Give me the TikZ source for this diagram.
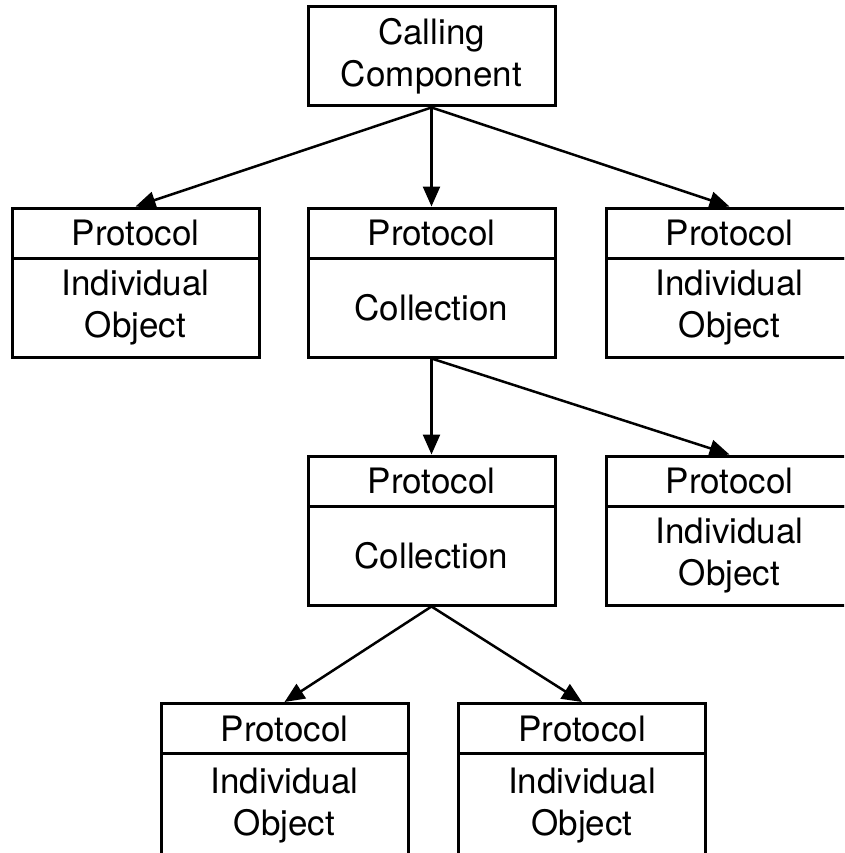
\documentclass[tikz,border=0pt]{standalone}
\usepackage{fontspec}
\setmainfont{TeX Gyre Heros}
\usetikzlibrary{arrows.meta}
\begin{document}
\begin{tikzpicture}[x=1pt,y=-1pt,
  box/.style={draw,line width=3pt,minimum width=247pt,inner sep=0pt,
    align=center,font=\fontsize{35}{42}\selectfont},
  head/.style={box,minimum height=50pt},
  body/.style={box,minimum height=99pt},
  tallbody/.style={box,minimum height=106pt},
  link/.style={line width=2.5pt,-{Triangle[length=20pt,width=17pt]}}]
\useasboundingbox (0,0) rectangle (844,853);
\clip (0,0) rectangle (844,853);

% root
\node[box,minimum height=99pt] (call) at (431.5,56.5) {Calling\\Component};

% second level
\node[head] (h1) at (135.5,233) {Protocol};
\node[body] (b1) at (135.5,307.5) {Individual\\Object};
\node[head] (h2) at (431.5,233) {Protocol};
\node[body] (b2) at (431.5,307.5) {Collection};
\node[head] (h3) at (729.5,233) {Protocol};
\node[body] (b3) at (729.5,307.5) {Individual\\Object};

% third level
\node[head] (h4) at (431.5,481) {Protocol};
\node[body] (b4) at (431.5,555.5) {Collection};
\node[head] (h5) at (729.5,481) {Protocol};
\node[body] (b5) at (729.5,555.5) {Individual\\Object};

% fourth level
\node[head] (h6) at (284.5,728.5) {Protocol};
\node[tallbody] (b6) at (284.5,806) {Individual\\Object};
\node[head] (h7) at (582,728.5) {Protocol};
\node[tallbody] (b7) at (582,806) {Individual\\Object};

% connectors
\draw[link] (call.south) -- (h1.north);
\draw[link] (call.south) -- (h2.north);
\draw[link] (call.south) -- (h3.north);
\draw[link] (b2.south) -- (h4.north);
\draw[link] (b2.south) -- (h5.north);
\draw[link] (b4.south) -- (h6.north);
\draw[link] (b4.south) -- (h7.north);
\end{tikzpicture}
\end{document}
